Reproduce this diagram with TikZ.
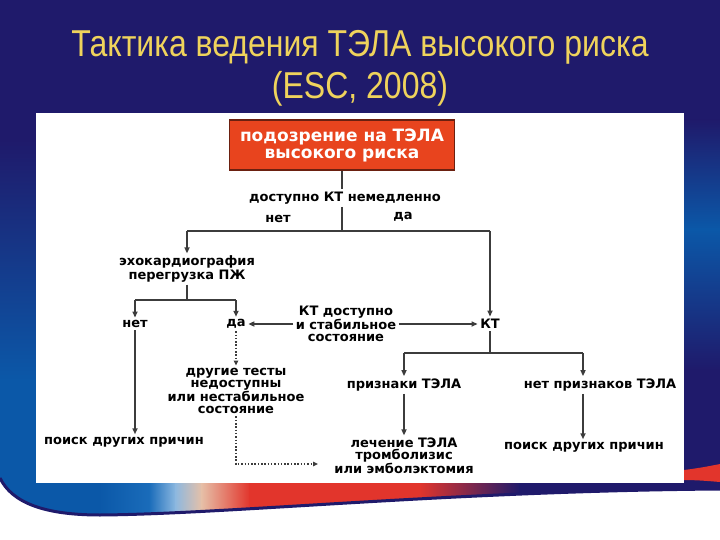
\documentclass[tikz,border=0pt]{standalone}
\usepackage{fontspec}
\setmainfont{Liberation Sans}
\newfontfamily\dv{DejaVu Sans}
\usetikzlibrary{arrows.meta}
\definecolor{navy}{HTML}{1F1A6B}
\definecolor{bluebg}{HTML}{0B58A8}
\definecolor{midblue}{HTML}{1A6CBA}
\definecolor{lightblue}{HTML}{8CB8E0}
\definecolor{peach}{HTML}{E6C0A8}
\definecolor{swred}{HTML}{E2352C}
\definecolor{titleyellow}{HTML}{EFD35C}
\definecolor{boxred}{HTML}{E8441E}
\definecolor{boxedge}{HTML}{6B2010}
\definecolor{linegray}{HTML}{3C3C3C}
\newcommand{\tallttl}[1]{\scalebox{1}[1.17]{#1}}
\tikzset{
  lbl/.style={font=\dv\bfseries\fontsize{13bp}{12bp}\selectfont, align=center, inner sep=2.5bp, text=black},
  conn/.style={draw=linegray, line width=1.5bp},
  arr/.style={conn, -{Triangle[length=6bp,width=5bp]}},
  dotarr/.style={draw=linegray, line width=1.5bp, dash pattern=on 1.5bp off 1.8bp, -{Triangle[length=5bp,width=4.5bp]}},
  titlestyle/.style={font=\fontsize{32bp}{38bp}\selectfont, text=titleyellow, inner sep=0pt, anchor=base},
  redbox/.style={fill=boxred, draw=boxedge, line width=1.3bp, text=white, minimum width=225bp, minimum height=50bp,
    font=\dv\bfseries\fontsize{17bp}{17bp}\selectfont, align=center}
}
\begin{document}
\begin{tikzpicture}[x=1bp,y=-1bp]
\useasboundingbox (0,0) rectangle (720,540);
% background
\fill[navy] (0,0) rectangle (720,540);
\shade[top color=navy, bottom color=bluebg] (0,140) rectangle (36,380);
\fill[bluebg] (0,379) rectangle (36,500);
\shade[top color=navy, bottom color=bluebg] (684,120) rectangle (720,230);
\shade[top color=bluebg, bottom color=navy] (684,229) rectangle (720,370);
% bottom swoosh
\begin{scope}
  \clip (0,470) -- (720,470) -- (720,489) .. controls (450,491) and (230,514) .. (100,515) .. controls (45,515) and (12,503) .. (0,478) -- cycle;
  \fill[bluebg] (0,470) rectangle (100,540);
  \shade[left color=bluebg, right color=midblue] (99,470) rectangle (150,540);
  \shade[left color=midblue, right color=lightblue] (149,470) rectangle (176,540);
  \shade[left color=lightblue, right color=peach] (175,470) rectangle (202,540);
  \shade[left color=peach, right color=swred] (201,470) rectangle (250,540);
  \fill[swred] (249,470) rectangle (420,540);
  \shade[left color=swred, right color=navy] (419,470) rectangle (520,540);
  \fill[navy] (519,470) rectangle (720,540);
\end{scope}
\fill[white] (0,540) -- (0,478) .. controls (12,503) and (45,515) .. (100,515) .. controls (230,514) and (450,491) .. (720,489) -- (720,540) -- cycle;
\draw[navy, line width=3bp] (0,478) .. controls (12,503) and (45,515) .. (100,515) .. controls (230,514) and (450,491) .. (720,489);
\fill[swred] (684,470) .. controls (700,468) and (710,466) .. (720,464) -- (720,482) .. controls (708,481) and (696,480) .. (684,480) -- cycle;
% white panel
\fill[white] (36,113) rectangle (684,483);
% title
\node[titlestyle] (title1) at (360,57) {\tallttl{Тактика ведения ТЭЛА высокого риска}};
\node[titlestyle] (title2) at (360,99) {\tallttl{(ESC, 2008)}};
% nodes
\node[redbox] (box) at (342,145) {подозрение на ТЭЛА\\высокого риска};
\node[lbl] (q1) at (345,198) {доступно КТ немедленно};
\node[lbl] (no1) at (278,219) {нет};
\node[lbl] (yes1) at (403,217) {да};
\node[lbl] (echo) at (187,269) {эхокардиография\\перегрузка ПЖ};
\node[lbl] (no2) at (135,324) {нет};
\node[lbl] (yes2) at (236,324) {да};
\node[lbl] (ctst) at (346,324) {КТ доступно\\и стабильное\\состояние};
\node[lbl] (ct) at (490,324) {КТ};
\node[lbl] (other) at (236,391) {другие тесты\\недоступны\\или нестабильное\\состояние};
\node[lbl] (search1) at (124,442) {поиск других причин};
\node[lbl] (signs) at (404,385) {признаки ТЭЛА};
\node[lbl] (nosigns) at (600,385) {нет признаков ТЭЛА};
\node[lbl] (treat) at (404,456) {лечение ТЭЛА\\тромболизис\\или эмболэктомия};
\node[lbl] (search2) at (584,447) {поиск других причин};
% junctions
\coordinate (j1) at (342,231);
\coordinate (jL) at (187,231);
\coordinate (jR) at (490,231);
\coordinate (j2) at (187,300);
\coordinate (j3) at (236,464);
\coordinate (end3) at (318,464);
\coordinate (j4) at (490,353);
\coordinate (jR2) at (583,353);
% connectors
\draw[conn] (box.south) -- (box.south |- q1.north);
\draw[conn] (q1.south -| j1) -- (j1);
\draw[conn] (jL) -- (jR);
\draw[arr] (jL) -- (echo.north);
\draw[arr] (jR) -- (ct.north);
\draw[conn] (echo.south) -- (j2);
\draw[conn] (no2 |- j2) -- (yes2 |- j2);
\draw[arr] (no2 |- j2) -- (no2.north);
\draw[arr] (yes2 |- j2) -- (yes2.north);
\draw[arr] (ctst.west) -- (yes2.east);
\draw[arr] (ctst.east) -- (ct.west);
\draw[dotarr] (yes2.south) -- (other.north);
\draw[dotarr] (other.south) -- (j3) -- (end3);
\draw[arr] (no2.south) -- (no2.south |- search1.north);
\draw[conn] (ct.south) -- (j4);
\draw[conn] (signs.north |- j4) -- (jR2);
\draw[arr] (signs.north |- j4) -- (signs.north);
\draw[arr] (jR2) -- (jR2 |- nosigns.north);
\draw[arr] (signs.south) -- (treat.north);
\draw[arr] (jR2 |- nosigns.south) -- (jR2 |- search2.north);
\end{tikzpicture}
\end{document}
